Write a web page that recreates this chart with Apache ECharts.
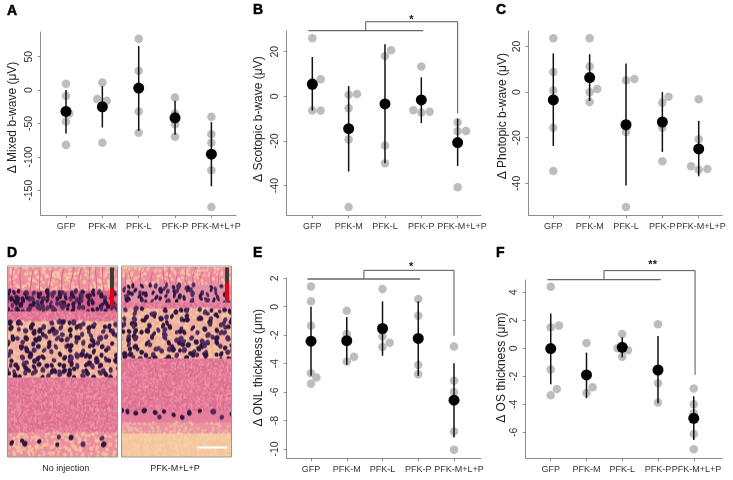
<!DOCTYPE html>
<html><head><meta charset="utf-8">
<style>html,body{margin:0;padding:0;background:#fff}#c{width:733px;height:480px}</style>
<script src="https://cdn.jsdelivr.net/npm/echarts@6/dist/echarts.min.js"></script>
</head><body><div id="c"></div>
<script>
const categories = ['GFP','PFK-M','PFK-L','PFK-P','PFK-M+L+P'];

// Panel A
const aDots = [[1,9.5],[1,-9],[1.09,-35],[1,-47],[1,-82],[2,11.5],[1.86,-13.5],[2.12,-16],[2,-79],[3,77],[3,29],[3,-32],[3,-64],[4,-11],[4,-35],[4,-51],[4,-70],[5,-40],[5,-66],[5,-79],[5,-120],[5,-175]];
const aMeans = [-32,-25,3,-41.5,-96];
const aLow = [-65,-56,-61,-67,-144];
const aHigh = [0,6,66,-16,-48];
// Panel B
const bDots = [[1,26],[1.23,7.6],[1,6.5],[1,-6.4],[1.23,-6.4],[2,0.7],[2.23,1],[2,-5.4],[2,-19.4],[2,-49.6],[3.17,20.6],[3,18],[3,-22],[3,-30],[4,13.4],[3.78,-6.3],[4,-7.3],[4.23,-6.9],[5,-11.6],[5,-15.7],[5.23,-15.5],[5,-40.7]];
const bMeans = [5.4,-14.5,-3.4,-1.6,-20.7];
const bLow = [-6.4,-33.7,-30,-12,-31.2];
const bHigh = [17.6,4.6,23.3,8.5,-10.1];
// Panel C
const cDots = [[1,23.6],[1,8.8],[1,0.7],[1,-15.6],[1,-34.6],[2,23.6],[2,11.2],[2,0],[2.21,1.4],[2,-4.3],[3,5.2],[3.23,5.8],[3,-17.5],[3,-50.4],[4.17,-2],[4,-4.6],[4,-15.6],[4,-30.3],[5,-3.1],[5,-20.7],[4.79,-32.5],[5,-34],[5.24,-33.7]];
const cMeans = [-3.4,6.4,-14.3,-13.1,-24.9];
const cLow = [-23.6,-3.9,-40.9,-26.2,-36.9];
const cHigh = [17,16.6,12.5,0,-12.6];
// Panel E
const eDots = [[1,1.43],[1,0.38],[1,-1.34],[1,-4.67],[1.15,-4.98],[1,-5.42],[2,-0.28],[2,-1.92],[2.2,-3.52],[2,-3.85],[3,1.24],[3,-2.07],[3.2,-2.54],[3,-2.84],[4,0.54],[4,-0.63],[4,-4.1],[4,-4.74],[5,-2.79],[5,-5.21],[5,-6],[5,-8.78],[5,-10.05]];
const eMeans = [-2.42,-2.39,-1.53,-2.23,-6.57];
const eLow = [-4.86,-4.08,-3.45,-4.86,-9.2];
const eHigh = [0,-0.73,0.38,0.38,-3.97];
// Panel F
const fDots = [[1,4.4],[1,1.5],[1.23,1.62],[1,-1.52],[1.17,-2.9],[1,-3.36],[2,0.38],[2,-1.9],[2.17,-2.79],[2,-3.19],[3,1.02],[2.87,0],[3.16,-0.14],[3,-0.6],[4,1.71],[4,-2.5],[4,-3.88],[5,-2.88],[5,-4],[5,-4.64],[5,-6.12],[5,-7.21]];
const fMeans = [-0.02,-1.9,0.07,-1.55,-5];
const fLow = [-2.57,-3.57,-0.64,-3.93,-6.55];
const fHigh = [2.48,-0.31,0.79,0.88,-3.43];

// Y tick labels
const aTicks = [50,0,-50,-100,-150];
const bTicks = [20,0,-20,-40];
const cTicks = [20,0,-20,-40];
const eTicks = [2,0,-2,-4,-6,-8,-10];
const fTicks = [4,2,0,-2,-4,-6];
// Significance brackets: [xStart, xEnd, yLow, xJoin, yTop, xDrop, yDrop, xStar, yStar]
const bBracket = [0.89,4.055,29.4,2.47,33.4,5,-7.6,3.73,34.3];
const eBracket = [0.9,4.05,1.95,2.48,2.56,5,-2.04,3.8,2.8];
const fBracket = [0.907,4.077,4.9,2.49,5.55,5.037,-1.9,3.85,5.95];

const panels = [
 {l:40.7,t:32,r:236,b:215,x:[0.304,5.677],y:[-187,87],name:'Δ Mixed b-wave (μV)',d:aDots,m:aMeans,lo:aLow,hi:aHigh,ticks:aTicks,gap:22,pad:6,ls:0.13},
 {l:286.7,t:31,r:481,b:215.3,x:[0.295,5.643],y:[-53.3,29.25],name:'Δ Scotopic b-wave (μV)',d:bDots,m:bMeans,lo:bLow,hi:bHigh,ticks:bTicks,gap:22,pad:4,br:bBracket,star:'*',ls:0.12},
 {l:528.3,t:31,r:722.3,b:215.3,x:[0.312,5.649],y:[-54,26.8],name:'Δ Photopic b-wave (μV)',d:cDots,m:cMeans,lo:cLow,hi:cHigh,ticks:cTicks,gap:20,pad:7,ls:0.06},
 {l:286.7,t:278.3,r:481,b:458.3,x:[0.32,5.755],y:[-10.66,2],name:'Δ ONL thickness (μm)',d:eDots,m:eMeans,lo:eLow,hi:eHigh,ticks:eTicks,gap:22,pad:0.5,br:eBracket,star:'*',ls:0.14},
 {l:525.7,t:280,r:722,b:458.3,x:[0.3,5.79],y:[-7.86,4.88],name:'Δ OS thickness (μm)',d:fDots,m:fMeans,lo:fLow,hi:fHigh,ticks:fTicks,gap:18,pad:1.5,br:fBracket,star:'**',ls:0.08}
];
const W=733,H=480,FF='"Liberation Sans",Arial,sans-serif';
const grid=[],xAxis=[],yAxis=[],series=[];
const xt=[1,2,3,4,5];
const xLabelStyle={margin:7,fontSize:9,fontFamily:FF,color:'#333',hideOverlap:false,showMinLabel:true,showMaxLabel:true,formatter:v=>categories[Math.round(v)-1]};
panels.forEach((p,i)=>{
  grid.push({left:p.l,top:p.t,width:p.r-p.l,height:p.b-p.t,containLabel:false});
  xAxis.push({gridIndex:i,type:'value',position:'bottom',min:p.x[0],max:p.x[1],splitLine:{show:false},
    axisLine:{onZero:false,lineStyle:{color:'#8c8c8c',width:1}},
    axisTick:{length:3,customValues:xt,lineStyle:{color:'#8c8c8c'}},
    axisLabel:Object.assign({customValues:[1,2,3,4]},xLabelStyle)});
  yAxis.push({gridIndex:i,type:'value',min:p.y[0],max:p.y[1],splitLine:{show:false},
    name:p.name,nameLocation:'middle',nameGap:p.gap,
    nameTextStyle:{fontSize:12,fontFamily:FF,color:'#222',padding:[0,0,0,p.pad*2]},
    axisLine:{onZero:false,lineStyle:{color:'#8c8c8c',width:1}},
    axisTick:{length:3,customValues:p.ticks,lineStyle:{color:'#8c8c8c'}},
    axisLabel:{customValues:p.ticks,rotate:90,margin:6,fontSize:10.5,fontFamily:FF,color:'#333',showMinLabel:true,showMaxLabel:true,verticalAlign:'bottom',align:'center'}});
  series.push({type:'scatter',xAxisIndex:i,yAxisIndex:i,data:p.d,symbolSize:8.5,itemStyle:{color:'#bdbdbd',opacity:1},z:2,silent:true});
  series.push({type:'custom',xAxisIndex:i,yAxisIndex:i,z:3,silent:true,
    data:xt.map((x,k)=>[x,p.lo[k],p.hi[k]]),
    renderItem:(ctx,api)=>{
      const a=api.coord([api.value(0),api.value(1)]),b=api.coord([api.value(0),api.value(2)]);
      return {type:'line',shape:{x1:a[0],y1:a[1],x2:b[0],y2:b[1]},style:{stroke:'#111',lineWidth:1.5}};
    }});
  series.push({type:'scatter',xAxisIndex:i,yAxisIndex:i,data:xt.map((x,k)=>[x,p.m[k]]),symbolSize:11,itemStyle:{color:'#000',opacity:1},z:4,silent:true});
  if(p.br){
    series.push({type:'custom',xAxisIndex:i,yAxisIndex:i,z:5,silent:true,clip:false,data:[p.br],
      renderItem:(ctx,api)=>{
        const v=k=>api.value(k);
        const c=(x,y)=>api.coord([x,y]);
        const s1=c(v(0),v(2)),s2=c(v(1),v(2)),j1=c(v(3),v(2)),j2=c(v(3),v(4)),d1=c(v(5),v(4)),d2=c(v(5),v(6)),st=c(v(7),v(8));
        return {type:'group',children:[
          {type:'line',shape:{x1:s1[0],y1:s1[1],x2:s2[0],y2:s2[1]},style:{stroke:'#666',lineWidth:1.3}},
          {type:'polyline',shape:{points:[j1,j2,d1,d2]},style:{stroke:'#555',lineWidth:1,fill:'none'}},
          {type:'text',x:st[0],y:st[1],style:{text:p.star,font:'bold 11px '+FF,fill:'#111',textAlign:'center',textVerticalAlign:'middle'}}
        ]};
      }});
  }
});
// Companion x axes that carry only the wide last category label, nudged right as in the reference
panels.forEach((p,i)=>{
  xAxis.push({gridIndex:i,type:'value',position:'bottom',min:p.x[0],max:p.x[1],splitLine:{show:false},
    axisLine:{show:false},axisTick:{show:false},
    axisLabel:Object.assign({customValues:[5+p.ls]},xLabelStyle)});
});

// Stand-in for the micrographs of panel D, painted on a canvas (texture only, not chart data)
function micro(w,h,zones,bar,seed){
  const c=document.createElement('canvas');c.width=w;c.height=h;const g=c.getContext('2d');
  let n=seed;const J=()=>{n+=1;const s=Math.sin(n*12.9898)*43758.5453;return s-Math.floor(s);};
  g.filter='blur(0.45px)';
  zones.forEach(z=>{
    g.fillStyle=z.bg;g.fillRect(-2,z.a,w+4,z.b-z.a);
    if(z.peach){for(let y=z.a;y<z.b;y+=3)for(let x=0;x<w;x+=3){if(J()<.55){g.fillStyle=z.peach;g.beginPath();g.arc(x+J()*3,y+J()*3,0.9+J()*1.1,0,7);g.fill();}}}
    if(z.speck){for(let y=z.a;y<z.b;y+=1.5)for(let x=0;x<w;x+=1.5){const t=J();g.fillStyle=t<.25?'#ee95ab':t<.55?'#dc6a8b':'#e47b98';g.fillRect(x,y,1.6,1.6);}}
    if(z.stripes){g.strokeStyle='#d9608a';g.lineWidth=1;for(let x=2;x<w;x+=6+J()*6){g.beginPath();g.moveTo(x+J()*4,z.a+J()*5);g.bezierCurveTo(x+J()*6-3,z.a+8,x+J()*6-3,z.b-8,x+J()*5-2,z.b);g.stroke();}}
    if(z.nuc){for(let y=z.a+z.dy/2;y<z.b;y+=z.dy)for(let x=-1;x<w+2;x+=z.dx){
      if(J()<(z.skip||0))continue;
      g.fillStyle=J()<.55?'#2f1440':'#512a5c';
      g.beginPath();g.ellipse(x+(J()-.5)*z.dx*1.3,y+(J()-.5)*z.dy*1.1,z.rx*(.8+J()*.4),z.ry*(.8+J()*.4),(J()-.5)*1.6,0,7);g.fill();
    }}
  });
  g.filter='none';
  g.fillStyle='#3d3a38';g.fillRect(bar.x,1,4,bar.d1);g.fillStyle='#e60012';g.fillRect(bar.x,1+bar.d1,4,bar.d2);
  if(bar.scale){g.fillStyle='#fff';g.fillRect(bar.scale,h-10,30,2);}
  return c;
}
const leftImg=micro(109,190,[
 {a:0,b:25,bg:'#ee919f',peach:'#f6c6a6',stripes:1},
 {a:24,b:45,bg:'#d9668f',nuc:1,dx:4.2,dy:4.2,rx:1.9,ry:2.6,skip:.06},
 {a:45,b:56,bg:'#e8748f',speck:1},
 {a:55,b:112,bg:'#efae9f',peach:'#f5c8a0',nuc:1,dx:5.6,dy:5.6,rx:2.2,ry:2.7,skip:.14},
 {a:111,b:166,bg:'#e57f9b',speck:1},
 {a:166,b:190,bg:'#eb8fa0',peach:'#f4c0a0'},
 {a:169,b:179,bg:'rgba(0,0,0,0)',nuc:1,dx:11,dy:9,rx:2.4,ry:2.6,skip:.1}
],{x:102,d1:21,d2:18},11);
const rightImg=micro(109,190,[
 {a:0,b:19,bg:'#ec8ea0',peach:'#f6c3a4',stripes:1},
 {a:18,b:36,bg:'#e391a4',nuc:1,dx:4.6,dy:4.6,rx:1.7,ry:2.6,skip:.18},
 {a:36,b:43,bg:'#e8748f',speck:1},
 {a:42,b:92,bg:'#efae9f',peach:'#f5c8a0',nuc:1,dx:5.8,dy:5.8,rx:2.2,ry:2.6,skip:.14},
 {a:92,b:144,bg:'#e57f9b',speck:1},
 {a:144,b:156,bg:'#e57f9b',nuc:1,dx:6.5,dy:8,rx:2.5,ry:2.5,skip:.15},
 {a:156,b:167,bg:'#ec93a2',peach:'#f0b3a6'},
 {a:167,b:190,bg:'#f4c6a0',peach:'#f7cfa6'}
],{x:103,d1:15,d2:18,scale:75},97);

const graphic=[
 {type:'image',style:{image:leftImg,x:8,y:266.5,width:109,height:190}},
 {type:'rect',shape:{x:7.5,y:266,width:110,height:191},style:{fill:'none',stroke:'#9a9a8c',lineWidth:1}},
 {type:'image',style:{image:rightImg,x:122,y:266.5,width:109,height:190}},
 {type:'rect',shape:{x:121.5,y:266,width:110,height:191},style:{fill:'none',stroke:'#9a9a8c',lineWidth:1}},
 {type:'text',x:65.7,y:469,style:{text:'No injection',font:'9px '+FF,fill:'#222',textAlign:'center',textVerticalAlign:'middle'}},
 {type:'text',x:175,y:469,style:{text:'PFK-M+L+P',font:'9px '+FF,fill:'#222',textAlign:'center',textVerticalAlign:'middle'}}
];
[['A',7,11],['B',253,10.5],['C',496,10.5],['D',7,253.5],['E',253,253.5],['F',496,253.5]].forEach(a=>{
  graphic.push({type:'text',x:a[1],y:a[2],style:{text:a[0],font:'900 14px "Liberation Sans",Arial,sans-serif',fill:'#000',stroke:'#000',lineWidth:.5,textAlign:'left',textVerticalAlign:'middle'}});
});
const chart=echarts.init(document.getElementById('c'),null,{renderer:'canvas',width:W,height:H});
chart.setOption({animation:false,backgroundColor:'#fff',grid,xAxis,yAxis,series,graphic});
</script></body></html>
